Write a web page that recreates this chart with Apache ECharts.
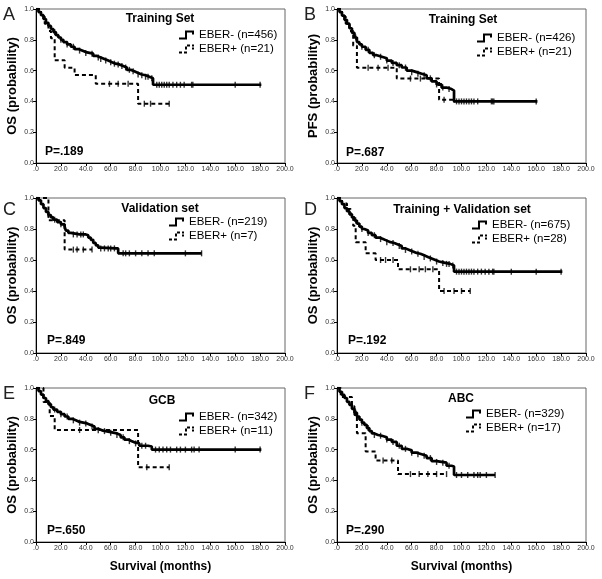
<!DOCTYPE html>
<html><head><meta charset="utf-8">
<script src="https://cdn.jsdelivr.net/npm/echarts@6/dist/echarts.min.js"></script>
<style>html,body{margin:0;padding:0;background:#fff}#c{width:602px;height:579px}</style>
</head><body><div id="c"></div>
<script>
// ---- tick labels ----
const xTickValues = [0,20,40,60,80,100,120,140,160,180,200];
const xTickLabels = ['.0','20.0','40.0','60.0','80.0','100.0','120.0','140.0','160.0','180.0','200.0'];
const yTickLabels = ['0.0','0.2','0.4','0.6','0.8','1.0'];

// ---- panel texts ----
const panelLetters = ['A','B','C','D','E','F'];
const panelTitles = ['Training Set','Training Set','Validation set','Training + Validation set','GCB','ABC'];
const yTitles = ['OS (probability)','PFS (probability)','OS (probability)','OS (probability)','OS (probability)','OS (probability)'];
const pValues = ['P=.189','P=.687','P=.849','P=.192','P=.650','P=.290'];
const negNames = ['EBER- (n=456)','EBER- (n=426)','EBER- (n=219)','EBER- (n=675)','EBER- (n=342)','EBER- (n=329)'];
const posNames = ['EBER+ (n=21)','EBER+ (n=21)','EBER+ (n=7)','EBER+ (n=28)','EBER+ (n=11)','EBER+ (n=17)'];
const xTitle = 'Survival (months)';

// ---- Panel A (OS, training) ----
const A_negT = [0,2,4,6,8,10,12,14,16,18,20,22,25,28,31,34,37,40,43,46,49,52,55,58,61,64,67,70,73,76,79,82,85,88,91,94,181];
const A_negS = [1,0.98,0.96,0.935,0.91,0.89,0.87,0.85,0.83,0.815,0.80,0.785,0.77,0.755,0.74,0.73,0.72,0.715,0.71,0.695,0.685,0.675,0.665,0.655,0.645,0.64,0.63,0.62,0.605,0.595,0.585,0.575,0.57,0.56,0.55,0.508,0.508];
const A_negC = [15,20,25,30,35,40,45,50,52,56,60,63,66,69,72,75,78,82,85,88,90,93,97,99,101,103,105,107,110,113,116,119,125,126,160,180];
const A_posT = [0,4,7,10,12,15,23,31,48,82,107];
const A_posS = [1,0.952,0.905,0.857,0.81,0.667,0.619,0.571,0.514,0.385,0.385];
const A_posC = [59,66,74,87,92,107];

// ---- Panel B (PFS, training) ----
const B_negT = [0,2,4,6,8,10,12,14,16,18,20,23,26,29,32,36,40,44,48,52,56,60,64,68,72,76,80,84,88,92,94,161];
const B_negS = [1,0.98,0.957,0.93,0.905,0.875,0.845,0.815,0.785,0.77,0.755,0.735,0.715,0.70,0.69,0.68,0.665,0.65,0.635,0.62,0.60,0.59,0.58,0.57,0.55,0.53,0.51,0.49,0.48,0.47,0.40,0.40];
const B_negC = [15,20,25,30,35,40,45,50,55,60,65,70,75,80,85,90,96,98,100,102,104,106,108,110,113,124,125,126,160];
const B_posT = [0,4,7,10,13,16,48,82,95];
const B_posS = [1,0.952,0.905,0.857,0.762,0.619,0.548,0.41,0.41];
const B_posC = [25,33,41,59,67,86,94];

// ---- Panel C (OS, validation) ----
const C_negT = [0,2,4,6,8,10,12,14,17,20,23,24,26,28,35,40,42,44,46,48,50,52,64,66,133];
const C_negS = [1,0.985,0.96,0.935,0.91,0.89,0.875,0.86,0.845,0.83,0.815,0.79,0.775,0.765,0.765,0.76,0.745,0.73,0.71,0.695,0.68,0.675,0.675,0.643,0.643];
const C_negC = [10,15,20,30,33,36,38,52,55,58,60,63,70,72,75,80,85,90,95,120,133];
const C_posT = [0,10,23,45];
const C_posS = [1,0.857,0.667,0.667];
const C_posC = [30,33,38,45];

// ---- Panel D (OS, training + validation) ----
const D_negT = [0,2,4,6,8,10,12,14,16,18,20,22,25,28,31,34,37,40,43,46,49,52,55,58,61,64,67,70,73,76,79,82,85,88,91,94,181];
const D_negS = [1,0.98,0.96,0.935,0.915,0.895,0.875,0.855,0.835,0.815,0.80,0.79,0.775,0.76,0.745,0.735,0.725,0.715,0.71,0.70,0.69,0.675,0.665,0.655,0.645,0.64,0.63,0.62,0.61,0.60,0.59,0.585,0.58,0.575,0.565,0.525,0.525];
const D_negC = [15,20,25,30,35,40,45,50,55,60,65,70,75,80,85,88,90,93,96,98,100,102,104,106,108,110,113,116,119,122,125,126,140,160,180];
const D_posT = [0,4,8,11,13,15,23,31,49,82,107];
const D_posS = [1,0.964,0.929,0.893,0.821,0.714,0.643,0.60,0.54,0.40,0.40];
const D_posC = [35,39,45,59,66,71,77,86,94,100,107];

// ---- Panel E (OS, GCB) ----
const E_negT = [0,2,4,6,8,10,12,14,17,20,23,26,29,32,35,38,41,44,47,50,53,56,59,62,65,68,71,74,77,80,83,86,90,93,181];
const E_negS = [1,0.98,0.957,0.935,0.915,0.895,0.875,0.86,0.845,0.83,0.815,0.80,0.79,0.78,0.775,0.77,0.76,0.75,0.735,0.725,0.72,0.715,0.71,0.705,0.695,0.68,0.665,0.655,0.645,0.64,0.625,0.625,0.62,0.60,0.60];
const E_negC = [15,20,25,30,35,40,45,50,55,60,65,70,75,80,85,88,96,99,102,105,108,113,116,120,125,127,131,160,180];
const E_posT = [0,6,11,15,82,107];
const E_posS = [1,0.909,0.818,0.727,0.485,0.485];
const E_posC = [35,89,107];

// ---- Panel F (OS, ABC) ----
const F_negT = [0,2,4,6,8,10,12,14,16,18,20,22,24,26,28,30,33,36,40,44,48,52,56,60,64,68,72,76,80,84,88,92,94,127];
const F_negS = [1,0.975,0.955,0.935,0.91,0.89,0.865,0.84,0.815,0.795,0.775,0.76,0.74,0.72,0.705,0.695,0.69,0.68,0.665,0.65,0.625,0.605,0.595,0.58,0.57,0.56,0.545,0.525,0.52,0.515,0.495,0.49,0.435,0.435];
const F_negC = [15,20,25,30,35,40,45,50,55,60,65,70,75,80,85,90,96,100,105,110,113,115,120,127];
const F_posT = [0,3,12,14,16,23,31,49,88];
const F_posS = [1,0.941,0.882,0.824,0.706,0.588,0.529,0.441,0.441];
const F_posC = [37,44,59,66,73,80,88];

const curves = [
  {nT:A_negT,nS:A_negS,nC:A_negC,pT:A_posT,pS:A_posS,pC:A_posC},
  {nT:B_negT,nS:B_negS,nC:B_negC,pT:B_posT,pS:B_posS,pC:B_posC},
  {nT:C_negT,nS:C_negS,nC:C_negC,pT:C_posT,pS:C_posS,pC:C_posC},
  {nT:D_negT,nS:D_negS,nC:D_negC,pT:D_posT,pS:D_posS,pC:D_posC},
  {nT:E_negT,nS:E_negS,nC:E_negC,pT:E_posT,pS:E_posS,pC:E_posC},
  {nT:F_negT,nS:F_negS,nC:F_negC,pT:F_posT,pS:F_posS,pC:F_posC}
];

// ---- layout (positions only) ----
const FONT = "'Liberation Sans', Arial, sans-serif";
const grids = [
  {left:36, top:9, width:249, height:154},
  {left:337, top:9, width:249, height:154},
  {left:36, top:198, width:249, height:155},
  {left:337, top:198, width:249, height:155},
  {left:36, top:388, width:249, height:154},
  {left:337, top:388, width:249, height:154}
];
const legendPos = [[179,29],[477,32],[169,216],[472,219],[179,411],[466,408]];
const titlePos = [[160,19],[463,20],[160,209],[462,210],[162,401],[461,399]];
const pPos = [[45,152],[346,153],[47,341],[348,341],[47,531],[346,531]];
const letterPos = [[3,15],[304,15],[3,210],[304,210],[3,394],[304,394]];

const ICON_SOLID = 'path://M0,7H8V9H0Z M6,0H8V9H6Z M6,0H15V2H6Z M13,0H15V4H13Z';
const ICON_DASH = 'path://M0,7H3V9H0Z M5,7H8V9H5Z M6,2H8V5H6Z M8,0H11V2H8Z M13,0H15V2H13Z M13,3H15V5H13Z';

function survAt(ts, ss, t){ let v = ss[0]; for (let i=0;i<ts.length;i++){ if (ts[i] <= t) v = ss[i]; } return v; }
function pairs(ts, ss){ return ts.map((t,i)=>[t, ss[i]]); }
function censorPts(ts, ss, cs){ return cs.map(c=>[c, survAt(ts, ss, c)]); }

const xAxes = [], yAxes = [], series = [], legends = [], graphics = [];
grids.forEach((g, i) => {
  xAxes.push({
    gridIndex:i, type:'value', min:0, max:200, interval:20,
    name: i >= 4 ? xTitle : '', nameLocation:'middle', nameGap:19,
    nameTextStyle:{fontFamily:FONT, fontWeight:'bold', fontSize:12, color:'#000'},
    axisLine:{show:true, onZero:false, lineStyle:{color:'#000', width:1}},
    axisTick:{show:true, length:3, lineStyle:{color:'#000'}},
    axisLabel:{fontFamily:FONT, fontSize:7, color:'#333', margin:3,
      formatter:v => xTickLabels[xTickValues.indexOf(Math.round(v))] ?? ''},
    splitLine:{show:false}
  });
  yAxes.push({
    gridIndex:i, type:'value', min:0, max:1, interval:0.2,
    name: yTitles[i], nameLocation:'middle', nameGap:17,
    nameTextStyle:{fontFamily:FONT, fontWeight:'bold', fontSize:13, color:'#000'},
    axisLine:{show:true, onZero:false, lineStyle:{color:'#000', width:1}},
    axisTick:{show:true, length:3, lineStyle:{color:'#000'}},
    axisLabel:{fontFamily:FONT, fontSize:7, color:'#333', margin:2,
      formatter:v => yTickLabels[Math.round(v*5)] ?? ''},
    splitLine:{show:false}
  });
  const c = curves[i];
  series.push({
    name: posNames[i], type:'line', xAxisIndex:i, yAxisIndex:i, step:'end',
    data: pairs(c.pT, c.pS), showSymbol:false, symbol:'none',
    lineStyle:{color:'#000', width:2, type:[4,3]}, itemStyle:{color:'#000'}, z:2
  });
  series.push({
    name: posNames[i], type:'scatter', xAxisIndex:i, yAxisIndex:i,
    data: censorPts(c.pT, c.pS, c.pC), symbol:'rect', symbolSize:[1.4,6],
    itemStyle:{color:'#000'}, z:3
  });
  series.push({
    name: negNames[i], type:'line', xAxisIndex:i, yAxisIndex:i, step:'end',
    data: pairs(c.nT, c.nS), showSymbol:false, symbol:'none',
    lineStyle:{color:'#000', width:2.7}, itemStyle:{color:'#000'}, z:4
  });
  series.push({
    name: negNames[i], type:'scatter', xAxisIndex:i, yAxisIndex:i,
    data: censorPts(c.nT, c.nS, c.nC), symbol:'rect', symbolSize:[1.4,6],
    itemStyle:{color:'#000'}, z:5
  });
  legends.push({
    orient:'vertical', left:legendPos[i][0], top:legendPos[i][1],
    itemWidth:15, itemHeight:9, itemGap:2, padding:0, selectedMode:false,
    textStyle:{fontFamily:FONT, fontSize:11.5, color:'#000'},
    data:[{name:negNames[i], icon:ICON_SOLID, itemStyle:{color:'#000'}},
          {name:posNames[i], icon:ICON_DASH, itemStyle:{color:'#000'}}]
  });
  graphics.push({type:'text', x:titlePos[i][0], y:titlePos[i][1],
    style:{text:panelTitles[i], font:"bold 12px " + FONT, fill:'#000', textAlign:'center', textVerticalAlign:'middle'}});
  graphics.push({type:'text', x:pPos[i][0], y:pPos[i][1],
    style:{text:pValues[i], font:"bold 12px " + FONT, fill:'#000', textAlign:'left', textVerticalAlign:'middle'}});
  graphics.push({type:'text', x:letterPos[i][0], y:letterPos[i][1],
    style:{text:panelLetters[i], font:"18px " + FONT, fill:'#222', textAlign:'left', textVerticalAlign:'middle'}});
});

const chart = echarts.init(document.getElementById('c'), null, {renderer:'canvas'});
chart.setOption({
  animation:false,
  backgroundColor:'#fff',
  grid: grids.map(g => Object.assign({show:true, borderColor:'#666', borderWidth:1, backgroundColor:'transparent'}, g)),
  xAxis: xAxes, yAxis: yAxes, series: series, legend: legends, graphic: graphics
});
</script></body></html>
